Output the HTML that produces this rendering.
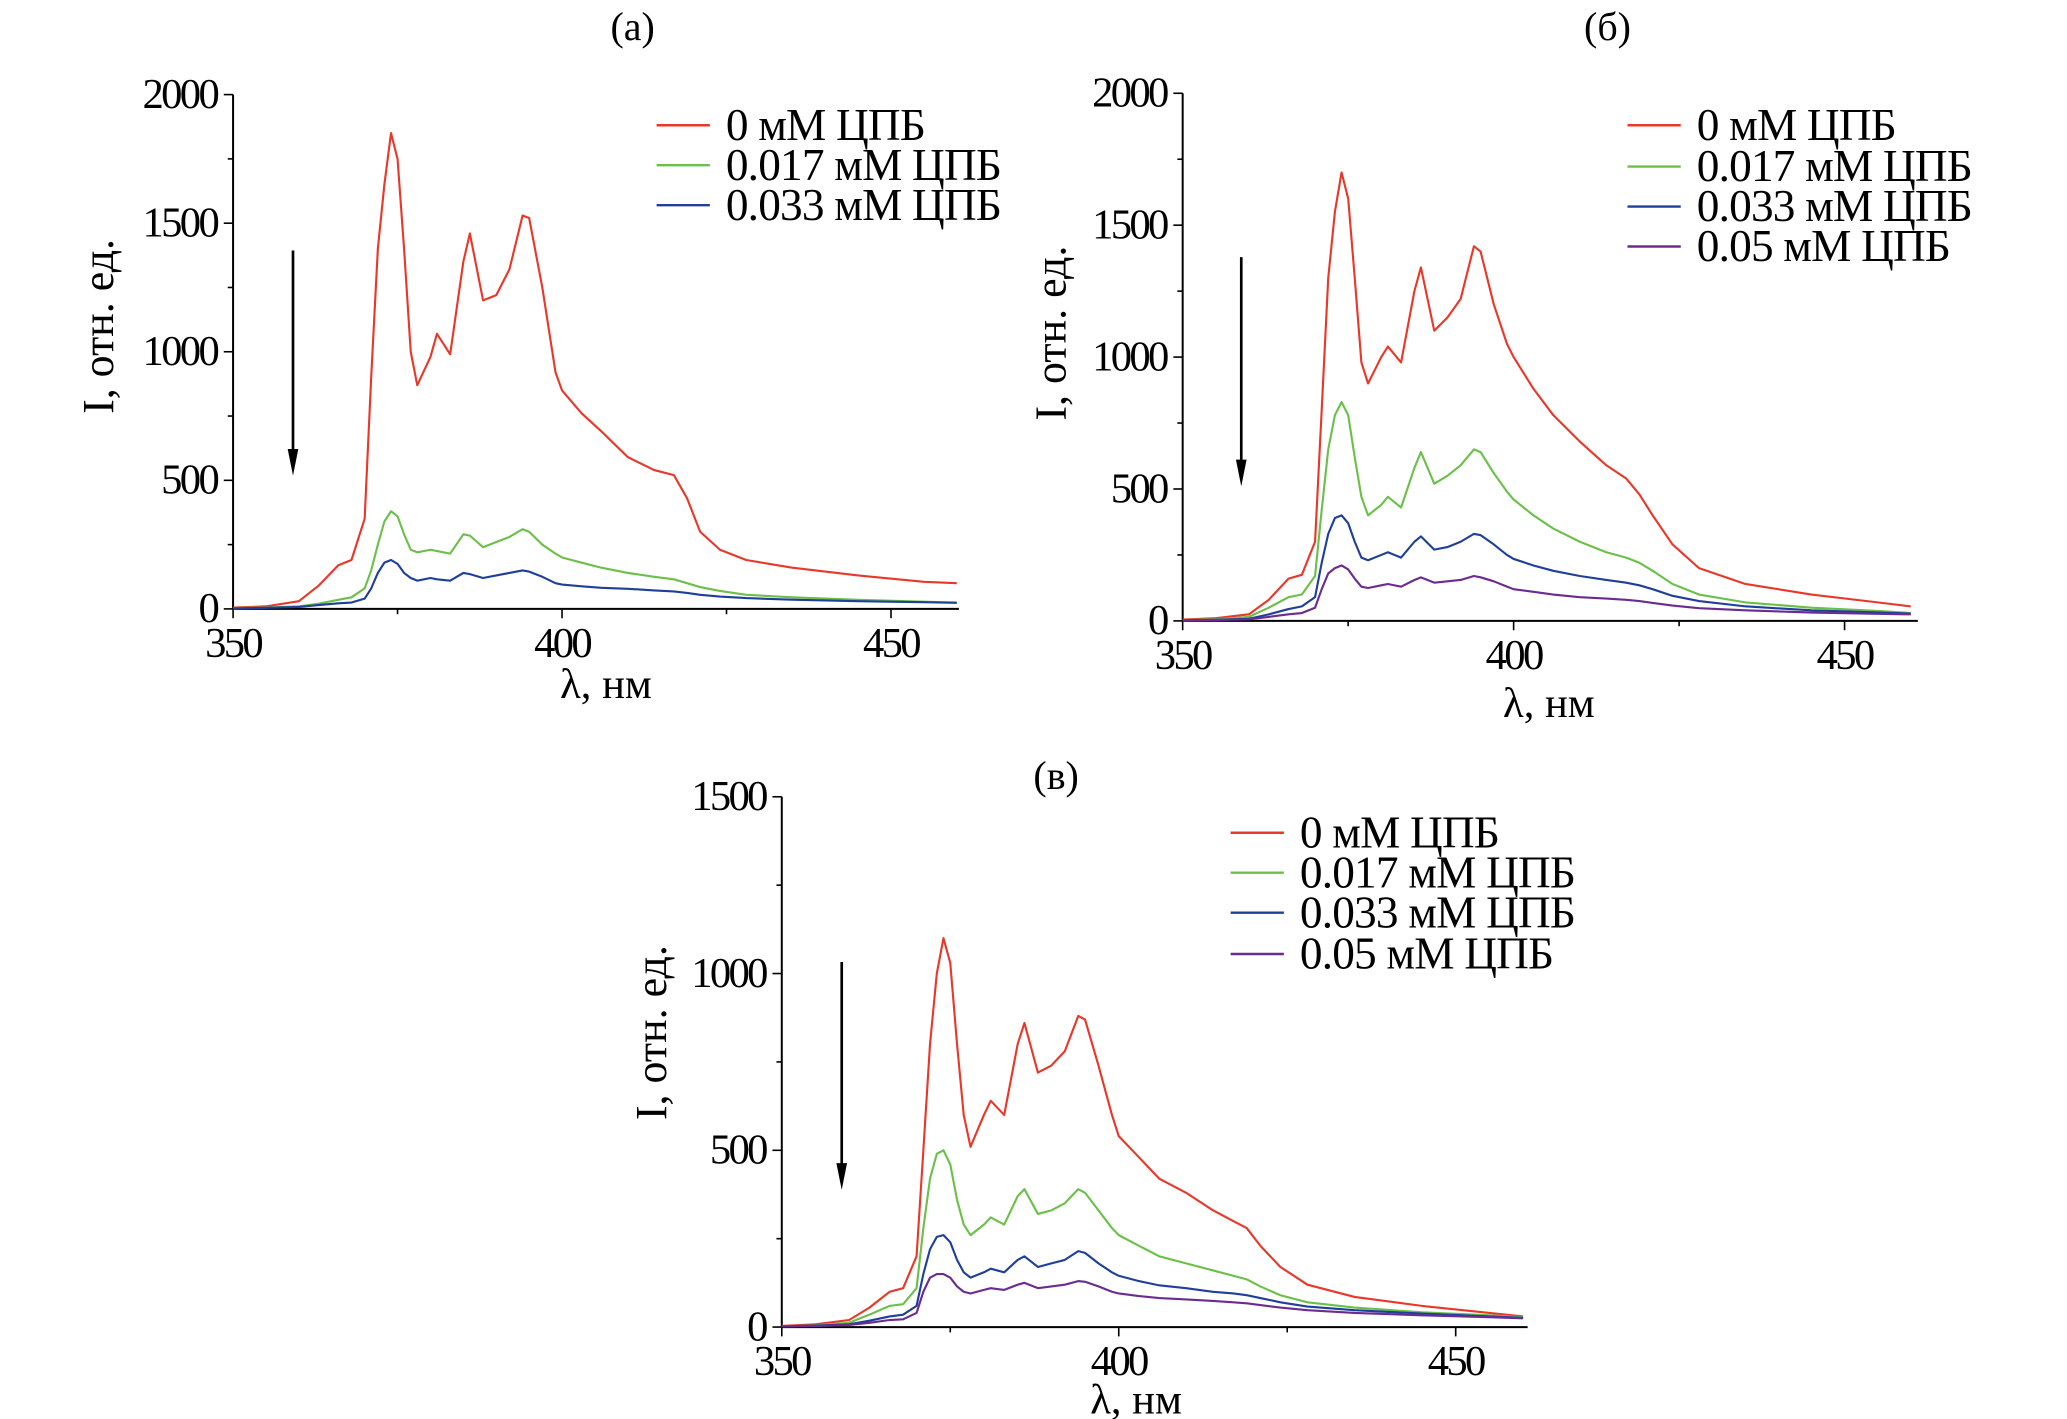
<!DOCTYPE html>
<html><head><meta charset="utf-8"><style>
html,body{margin:0;padding:0;background:#fff;}
svg{display:block;font-family:"Liberation Serif",serif;}
</style></head><body>
<svg id="chart" width="2067" height="1419" viewBox="0 0 1552 1065" preserveAspectRatio="none" xmlns="http://www.w3.org/2000/svg"></svg>
<script>
const wavelengths=[350,355,360,363,366,368,370,371,372,373,374,375,376,377,378,380,381,383,385,386,388,390,392,394,395,397,399,400,403,406,410,414,417,419,421,424,428,435,445,455,460];
const xTickLabels=[350,400,450];
const concLabels=["0 мМ ЦПБ","0.017 мМ ЦПБ","0.033 мМ ЦПБ","0.05 мМ ЦПБ"];
const colors=["#e8382a","#6cc04a","#1f3f9a","#6a2c91"];
const a_red=[5,10,30,90,170,190,350,900,1400,1650,1850,1750,1400,1000,870,980,1070,990,1350,1460,1200,1220,1320,1530,1520,1250,920,850,760,690,590,540,520,430,300,230,190,160,130,105,100];
const a_green=[3,5,10,20,35,45,80,150,250,340,380,360,290,230,220,230,225,215,290,285,240,260,280,310,300,250,215,200,180,160,140,125,115,100,85,70,55,45,35,28,25];
const a_blue=[2,4,8,15,22,25,40,80,140,180,190,175,140,120,110,120,115,110,140,135,120,130,140,150,145,125,100,95,88,82,78,72,68,62,55,48,42,36,30,26,24];
const b_red=[5,10,25,80,160,175,300,800,1300,1550,1700,1600,1300,980,900,1000,1040,980,1250,1340,1100,1150,1220,1420,1400,1200,1050,1000,880,780,680,590,540,480,400,290,200,140,100,70,55];
const b_green=[3,6,15,50,90,100,170,420,650,780,830,780,620,470,400,440,470,430,580,640,520,550,590,650,640,560,490,460,400,350,300,260,240,220,190,140,100,70,50,38,30];
const b_blue=[2,4,8,25,45,55,90,220,330,390,400,370,300,240,230,250,260,240,300,320,270,280,300,330,325,290,250,235,210,190,170,155,145,135,120,95,75,55,40,32,28];
const b_purple=[2,3,6,15,25,30,50,120,180,200,210,195,160,130,125,135,140,130,155,165,145,150,155,170,165,150,130,120,110,100,90,85,80,75,68,58,48,40,32,27,25];
const c_red=[3,8,20,55,100,110,200,500,800,1000,1100,1030,800,600,510,600,640,600,800,860,720,740,780,880,870,740,600,540,480,420,380,330,300,280,230,170,120,85,60,40,30];
const c_green=[2,5,12,35,60,65,110,280,420,490,500,460,360,290,260,290,310,290,370,390,320,330,350,390,380,330,280,260,230,200,180,160,145,135,115,90,70,55,42,33,28];
const c_blue=[2,4,8,18,30,35,60,150,220,255,260,240,190,155,140,155,165,155,190,200,170,180,190,215,210,180,155,145,130,118,110,100,95,90,82,70,58,48,38,30,26];
const c_purple=[2,3,6,12,20,22,40,100,140,150,150,140,115,100,95,105,110,105,120,125,110,115,120,130,128,115,100,95,88,82,78,74,70,67,62,55,48,40,33,28,25];
const a_yTicks=[0,500,1000,1500,2000];
const b_yTicks=[0,500,1000,1500,2000];
const c_yTicks=[0,500,1000,1500];

const NS="http://www.w3.org/2000/svg";
const svg=document.getElementById('chart');
function mk(tag,attrs,parent,text){const e=document.createElementNS(NS,tag);for(const k in attrs)e.setAttribute(k,attrs[k]);if(text!==undefined)e.textContent=text;(parent||svg).appendChild(e);return e;}

const panels=[
 {id:'a',title:'(a)',tx:475,ty:30,x0:175,x1:669,xEnd:720,y0:457,yTopPx:71,yMax:2000,yTicks:a_yTicks,series:[a_red,a_green,a_blue],legX:493,legY:[94,124,154],ylx:75,yly:245,xlx:455,xly:524,arrowX:220,arrowY:[188,357]},
 {id:'b',title:'(б)',tx:1207,ty:30,x0:888,x1:1385,xEnd:1440,y0:466,yTopPx:70,yMax:2000,yTicks:b_yTicks,series:[b_red,b_green,b_blue,b_purple],legX:1222,legY:[94,125,155,185],ylx:790,yly:250,xlx:1163,xly:538,arrowX:932,arrowY:[193,365]},
 {id:'c',title:'(в)',tx:793,ty:592,x0:587,x1:1093,xEnd:1147,y0:996,yTopPx:598,yMax:1500,yTicks:c_yTicks,series:[c_red,c_green,c_blue,c_purple],legX:924,legY:[625,655,685,716],ylx:490,yly:775,xlx:853,xly:1061,arrowX:632,arrowY:[722,893]}
];

panels.forEach(p=>{
 const g=mk('g',{});
 
 
 const sx=v=>p.x0+(v-350)*(p.x1-p.x0)/100;
 const sy=v=>p.y0-(v/p.yMax)*(p.y0-p.yTopPx);
 const t=mk('text',{x:p.tx,y:p.ty,'font-size':30,'text-anchor':'middle'},g,p.title);
 
 
 const ya=mk('line',{x1:p.x0,y1:p.y0,x2:p.x0,y2:p.yTopPx,stroke:'#000','stroke-width':1.5},g);
 
 
 const xa=mk('line',{x1:p.x0,y1:p.y0,x2:p.xEnd,y2:p.y0,stroke:'#000','stroke-width':1.5},g);
 
 
 const step=p.yTicks[1]-p.yTicks[0];
 for(let v=0;v<=p.yMax;v+=step/2){
  const major=(v%step===0);
  mk('line',{x1:p.x0,x2:p.x0-(major?7:4),y1:sy(v),y2:sy(v),stroke:'#000','stroke-width':1.2},g);
 }
 p.yTicks.forEach(v=>{
  const l=mk('text',{x:p.x0-12,y:sy(v)+10,'font-size':32,'text-anchor':'end','letter-spacing':'-2'},g,String(v));
  
  
 });
 for(let v=350;v<=460;v+=25){
  const major=(v%50===0);
  mk('line',{x1:sx(v),x2:sx(v),y1:p.y0,y2:p.y0+(major?7:4),stroke:'#000','stroke-width':1.2},g);
 }
 xTickLabels.forEach(v=>{
  const l=mk('text',{x:sx(v),y:p.y0+36,'font-size':32,'text-anchor':'middle','letter-spacing':'-2'},g,String(v));
  
  
 });
 const yl=mk('text',{x:0,y:0,'font-size':33,'text-anchor':'middle',transform:`translate(${p.ylx+10},${p.yly}) rotate(-90)`},g,'I, отн. ед.');
 
 
 const xl=mk('text',{x:p.xlx,y:p.xly,'font-size':32,'text-anchor':'middle'},g,'λ, нм');
 
 
 p.series.forEach((s,i)=>{
  const d=s.map((v,k)=>(k?'L':'M')+sx(wavelengths[k]).toFixed(1)+','+sy(v).toFixed(1)).join(' ');
  const path=mk('path',{d:d,fill:'none',stroke:colors[i],'stroke-width':1.6,'stroke-linejoin':'round'},g);
  
  
  const le=mk('line',{x1:p.legX,x2:p.legX+40,y1:p.legY[i],y2:p.legY[i],stroke:colors[i],'stroke-width':1.8},g);
  
  
  const lt=mk('text',{x:p.legX+52,y:p.legY[i]+11,'font-size':34,'letter-spacing':'-0.6'},g,concLabels[i]);
  
  
 });
 const ar=mk('g',{},g);
 
 
 mk('line',{x1:p.arrowX,x2:p.arrowX,y1:p.arrowY[0],y2:p.arrowY[1]-15,stroke:'#000','stroke-width':2},ar);
 mk('polygon',{points:`${p.arrowX-4},${p.arrowY[1]-20} ${p.arrowX+4},${p.arrowY[1]-20} ${p.arrowX},${p.arrowY[1]}`,fill:'#000'},ar);
});
</script>
</body></html>
